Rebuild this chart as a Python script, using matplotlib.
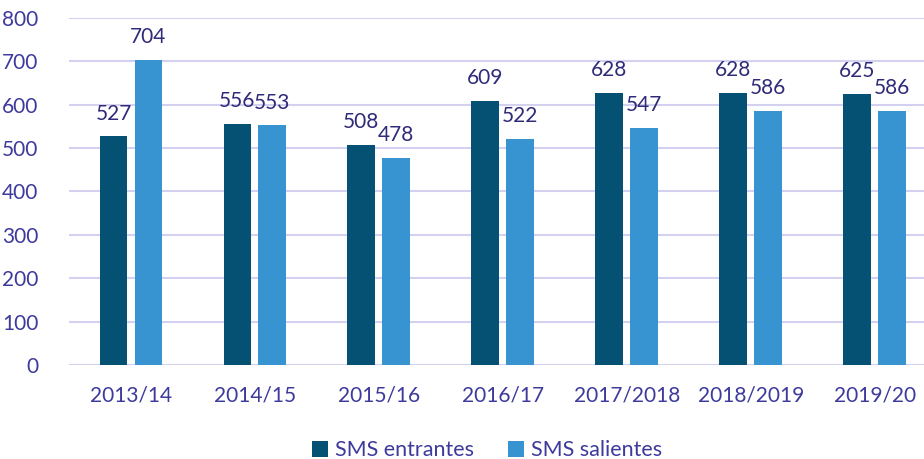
import matplotlib.pyplot as plt
import numpy as np

years = ["2013/14", "2014/15", "2015/16", "2016/17", "2017/2018", "2018/2019", "2019/20"]
entrantes = [527, 556, 508, 609, 628, 628, 625]
salientes = [704, 553, 478, 522, 547, 586, 586]

plt.rcParams["font.family"] = ["Lato", "DejaVu Sans"]
tick_color = "#3d3a9c"
label_color = "#2f2b78"
dark = "#045174"
light = "#3894d0"

fig = plt.figure(figsize=(9.24, 4.59), dpi=100)
ax = fig.add_axes([0.0747, 0.2048, 0.939, 0.756])

x = np.arange(len(years))
w = 0.225
off = 0.141
b1 = ax.bar(x - off, entrantes, w, color=dark, label="SMS entrantes", zorder=3)
b2 = ax.bar(x + off, salientes, w, color=light, label="SMS salientes", zorder=3)

for bars in (b1, b2):
    for rect in bars:
        h = rect.get_height()
        ax.annotate(f"{h:.0f}", (rect.get_x() + rect.get_width() / 2, h),
                    xytext=(0, 9), textcoords="offset points",
                    ha="center", va="bottom", fontsize=15, color=label_color)

ax.set_xlim(-0.5, len(years) - 0.5)
ax.set_ylim(0, 800)
ax.set_yticks(range(0, 801, 100))
ax.set_xticks(x)
ax.set_xticklabels(years)
ax.tick_params(axis="both", length=0, labelsize=15, colors=tick_color)
ax.tick_params(axis="x", pad=15)
ax.tick_params(axis="y", pad=22)
ax.grid(axis="y", color="#d3d0f0", linewidth=1.5, zorder=0)
for s in ax.spines.values():
    s.set_visible(False)

fig.legend(loc="lower center", bbox_to_anchor=(0.527, -0.045), ncol=2, frameon=False,
           fontsize=15.5, labelcolor=tick_color, handlelength=0.75, handleheight=0.8,
           handletextpad=0.3, columnspacing=1.6)

fig.savefig("out.png", dpi=100)
